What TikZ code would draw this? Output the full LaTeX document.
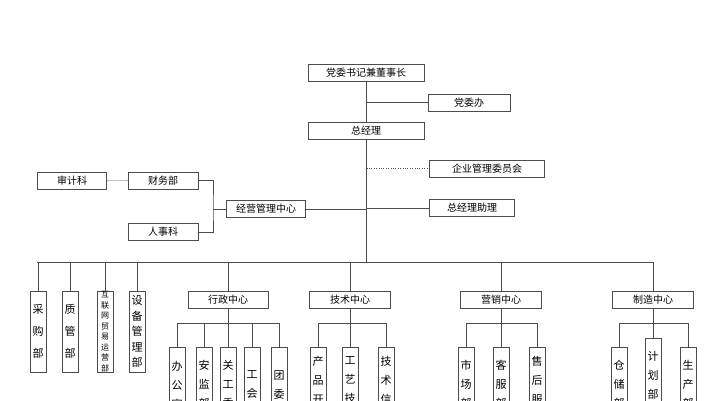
\documentclass[tikz,border=0pt]{standalone}
\usepackage{fontspec}
\setmainfont{Noto Sans CJK SC}
\usetikzlibrary{positioning}

\begin{document}
\begin{tikzpicture}[x=1pt, y=-1pt,
    hbox/.style={draw=black!70, fill=white, minimum height=17pt, inner sep=0pt, font=\fontsize{10}{12}\selectfont},
    vbox/.style={draw=black!70, fill=white, minimum width=16pt, minimum height=81pt, inner sep=0pt, align=center, anchor=north},
    lowbox/.style={draw=black!70, fill=white, minimum width=16pt, minimum height=75pt, inner xsep=0pt, inner ysep=9pt, align=center, anchor=north, font=\fontsize{11}{19}\selectfont},
    link/.style={draw=black!70, thin}]
        \clip (0,0) rectangle (726,400);
        \useasboundingbox (0,0) rectangle (726,400);

        % top of the chart
        \node[hbox, minimum width=116pt] (dsz) at (366,72.5) {党委书记兼董事长};
        \node[hbox, minimum width=82pt] (dwb) at (469,102.5) {党委办};
        \node[hbox, minimum width=116pt] (zjl) at (366,130.5) {总经理};
        \node[hbox, minimum width=115pt] (qyw) at (487,168.5) {企业管理委员会};
        \node[hbox, minimum width=85pt] (zl) at (472,208) {总经理助理};
        \node[hbox, minimum width=79pt] (jyzx) at (266,209) {经营管理中心};
        \node[hbox, minimum width=70pt] (cwb) at (163,180.5) {财务部};
        \node[hbox, minimum width=69pt] (sjk) at (72,181) {审计科};
        \node[hbox, minimum width=70pt] (rsk) at (163,232) {人事科};
        \coordinate (bus) at (37,262);
        \coordinate (bend) at (213,209);

        \draw[link] (dsz) -- (zjl);
        \draw[link] (dwb.west) -- (dwb.west -| dsz.south);
        \draw[link, dotted] (qyw.west) -- (qyw.west -| zjl.south);
        \draw[link] (zl.west) -- (zl.west -| zjl.south);
        \draw[link] (jyzx.east) -- (jyzx.east -| zjl.south);
        \draw[link] (zjl.south) -- (zjl.south |- bus);
        \draw[link] (sjk) -- (cwb);
        \draw[link] (cwb.east) -| (bend) |- (rsk.east);
        \draw[link] (bend) -- (jyzx.west);
        \draw[link] (bus) -- (653,262);

        % departments and centres
        \node[vbox, font=\fontsize{11}{22}\selectfont] (cgb) at (38,291) {采\\购\\部};
        \node[vbox, font=\fontsize{11}{22}\selectfont] (zgb) at (70,291) {质\\管\\部};
        \node[vbox, font=\fontsize{8}{10.5}\selectfont] (hlw) at (105,291) {互\\联\\网\\贸\\易\\运\\营\\部};
        \node[vbox, font=\fontsize{11}{15.5}\selectfont] (sbb) at (137,291) {设\\备\\管\\理\\部};
        \node[hbox, minimum width=80pt, anchor=north] (xzzx) at (228,291) {行政中心};
        \node[hbox, minimum width=81pt, anchor=north] (jszx) at (350,291) {技术中心};
        \node[hbox, minimum width=81pt, anchor=north] (yxzx) at (501,291) {营销中心};
        \node[hbox, minimum width=81pt, anchor=north] (zzzx) at (653,291) {制造中心};
        \foreach \n in {cgb, zgb, hlw, sbb, xzzx, jszx, yxzx, zzzx}
            \draw[link] (\n.north) -- (\n.north |- bus);

        % sub departments
        \node[lowbox] (bgs) at (177,347) {办\\公\\室};
        \node[lowbox] (ajb) at (204,347) {安\\监\\部};
        \node[lowbox] (ggw) at (228,347) {关\\工\\委};
        \node[lowbox] (gh) at (252,347) {工\\会};
        \node[lowbox] (tw) at (279,347) {团\\委};
        \node[lowbox] (cpkf) at (318,347) {产\\品\\开\\发\\部};
        \node[lowbox] (gyjs) at (350,347) {工\\艺\\技\\术\\部};
        \node[lowbox] (jsxx) at (386,347) {技\\术\\信\\息\\部};
        \node[lowbox] (scb) at (466,347) {市\\场\\部};
        \node[lowbox] (kfb) at (501,347) {客\\服\\部};
        \node[lowbox] (shfw) at (537,347) {售\\后\\服\\务\\部};
        \node[lowbox] (ccb) at (619,347) {仓\\储\\部};
        \node[lowbox, inner ysep=6pt] (jhb) at (653,338) {计\\划\\部};
        \node[lowbox] (scbu) at (688,347) {生\\产\\部};

        \draw[link] (xzzx.south) -- (ggw.north);
        \draw[link] (bgs.north) |- (tw.north |- 0,323) -- (tw.north);
        \foreach \n in {ajb, gh}
            \draw[link] (\n.north) -- (\n.north |- 0,323);
        \draw[link] (jszx.south) -- (gyjs.north);
        \draw[link] (cpkf.north) |- (jsxx.north |- 0,323) -- (jsxx.north);
        \draw[link] (yxzx.south) -- (kfb.north);
        \draw[link] (scb.north) |- (shfw.north |- 0,323) -- (shfw.north);
        \draw[link] (zzzx.south) -- (jhb.north);
        \draw[link] (ccb.north) |- (scbu.north |- 0,323) -- (scbu.north);
    \end{tikzpicture}
\end{document}
